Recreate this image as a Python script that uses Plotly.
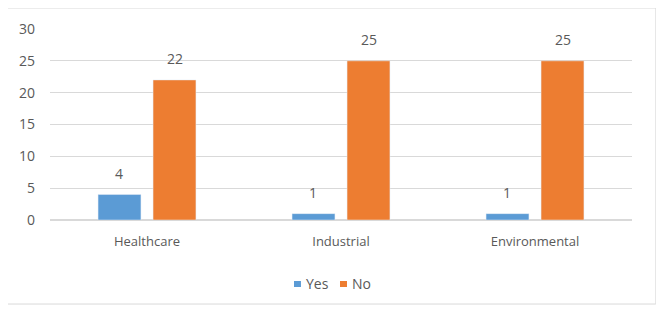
import plotly.graph_objects as go

categories = ["Healthcare", "Industrial", "Environmental"]
yes_values = [4, 1, 1]
no_values = [22, 25, 25]
series_names = ["Yes", "No"]
series_colors = ["#5B9BD5", "#ED7D31"]

font_color = "#595959"
font_family = "Open Sans, Liberation Sans, sans-serif"
fig = go.Figure()
fig.add_trace(go.Bar(name=series_names[0], x=categories, y=yes_values, marker_color=series_colors[0]))
fig.add_trace(go.Bar(name=series_names[1], x=categories, y=no_values, marker_color=series_colors[1]))

annotations = []
for cat, v in zip(categories, yes_values):
    annotations.append(dict(x=cat, y=v, text=str(v), showarrow=False, xshift=-28, yshift=21,
                            yanchor="middle", font=dict(size=14, color=font_color)))
for cat, v in zip(categories, no_values):
    annotations.append(dict(x=cat, y=v, text=str(v), showarrow=False, xshift=28, yshift=21,
                            yanchor="middle", font=dict(size=14, color=font_color)))

# custom compact legend (Excel style small squares)
legend_sq_x = [0.4192, 0.4983]
legend_txt_x = [0.4364, 0.5155]
shapes = [dict(type="rect", xref="paper", yref="paper", x0=-0.079, x1=1.041, y0=-0.44, y1=1.11,
               line=dict(color="#d9d9d9", width=1), fillcolor="rgba(0,0,0,0)", layer="below")]
for name, col, sx, tx in zip(series_names, series_colors, legend_sq_x, legend_txt_x):
    shapes.append(dict(type="rect", xref="paper", yref="paper", x0=sx, x1=sx + 0.012,
                       y0=-0.3508, y1=-0.3194, line=dict(width=0), fillcolor=col))
    annotations.append(dict(xref="paper", yref="paper", x=tx, y=-0.335, text=name, showarrow=False,
                            xanchor="left", yanchor="middle", font=dict(size=14, color=font_color)))

# page body has an 8px margin, so figure coordinates are offset by 8px
fig.update_layout(
    width=656, height=311,
    margin=dict(l=42, r=32, t=21, b=99),
    paper_bgcolor="white", plot_bgcolor="white",
    font=dict(family=font_family, color=font_color, size=13),
    barmode="group", bargap=0.433, bargroupgap=0.22,
    showlegend=False,
    xaxis=dict(showgrid=False, showline=False, ticks="", tickfont=dict(size=13), ticklabelstandoff=12),
    yaxis=dict(range=[0, 30], dtick=5, showgrid=True, gridcolor="#d9d9d9", gridwidth=1,
               zeroline=True, zerolinecolor="#d9d9d9", showline=False, ticks="",
               tickfont=dict(size=14), ticklabelstandoff=14),
    annotations=annotations,
    shapes=shapes,
)
fig.write_html("out.html")
